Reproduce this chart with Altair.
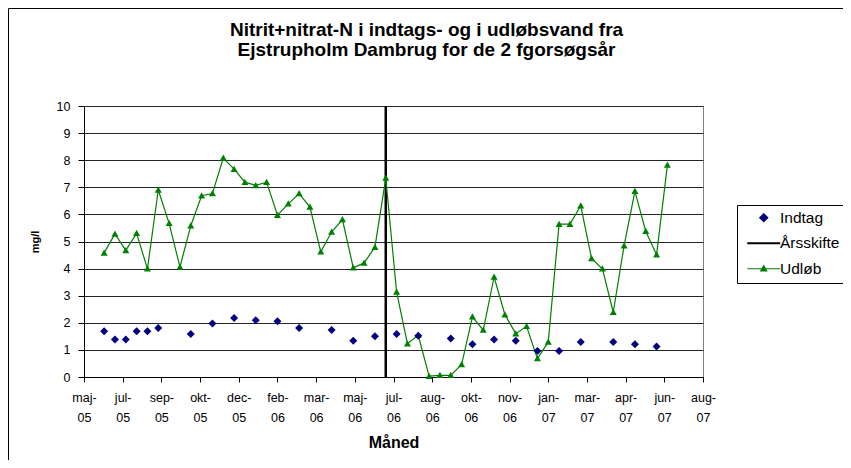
import altair as alt
import pandas as pd

# ---------------- data ----------------
udlob_dates = [
    "2005-06-23", "2005-07-07", "2005-07-21", "2005-08-04", "2005-08-18", "2005-09-01",
    "2005-09-15", "2005-09-29", "2005-10-13", "2005-10-27", "2005-11-10", "2005-11-24",
    "2005-12-08", "2005-12-22", "2006-01-05", "2006-01-19", "2006-02-02", "2006-02-16",
    "2006-03-02", "2006-03-16", "2006-03-30", "2006-04-13", "2006-04-27", "2006-05-11",
    "2006-05-25", "2006-06-08", "2006-06-22", "2006-07-06", "2006-07-20", "2006-08-03",
    "2006-08-17", "2006-08-31", "2006-09-14", "2006-09-28", "2006-10-12", "2006-10-26",
    "2006-11-09", "2006-11-23", "2006-12-07", "2006-12-21", "2007-01-04", "2007-01-18",
    "2007-02-01", "2007-02-15", "2007-03-01", "2007-03-15", "2007-03-29", "2007-04-12",
    "2007-04-26", "2007-05-10", "2007-05-24", "2007-06-07", "2007-06-21",
]
udlob_values = [
    4.58, 5.28, 4.67, 5.30, 3.99, 6.90, 5.67, 4.06, 5.58, 6.69,
    6.77, 8.08, 7.67, 7.19, 7.07, 7.19, 5.97, 6.39, 6.77, 6.27,
    4.62, 5.35, 5.81, 4.03, 4.21, 4.79, 7.34, 3.14, 1.23, 1.54,
    0.03, 0.06, 0.06, 0.46, 2.22, 1.73, 3.69, 2.30, 1.60, 1.87,
    0.68, 1.29, 5.64, 5.64, 6.32, 4.37, 3.99, 2.39, 4.84, 6.85,
    5.38, 4.51, 7.82,
]

indtag_dates = [
    "2005-06-23", "2005-07-07", "2005-07-21", "2005-08-04", "2005-08-18", "2005-09-01",
    "2005-10-13", "2005-11-10", "2005-12-08", "2006-01-05", "2006-02-02", "2006-03-02",
    "2006-04-13", "2006-05-11", "2006-06-08", "2006-07-06", "2006-08-03", "2006-09-14",
    "2006-10-12", "2006-11-09", "2006-12-07", "2007-01-04", "2007-02-01", "2007-03-01",
    "2007-04-12", "2007-05-10", "2007-06-07",
]
indtag_values = [
    1.69, 1.38, 1.38, 1.69, 1.69, 1.81, 1.59, 1.97, 2.18, 2.09,
    2.06, 1.81, 1.73, 1.34, 1.50, 1.59, 1.52, 1.42, 1.21, 1.38,
    1.34, 0.96, 0.96, 1.29, 1.29, 1.21, 1.13,
]

aarsskifte_dates = ["2006-06-22", "2006-06-22"]
aarsskifte_values = [0, 10]

series_names = ["Indtag", "Årsskifte", "Udløb"]
series_colors = ["#000080", "#000000", "#008000"]

# x-axis ticks (Excel date axis, 50-day major unit) and Danish month names
x_tick_dates = [
    (2005, 5, 28), (2005, 7, 17), (2005, 9, 5), (2005, 10, 25), (2005, 12, 14),
    (2006, 2, 2), (2006, 3, 24), (2006, 5, 13), (2006, 7, 2), (2006, 8, 21),
    (2006, 10, 10), (2006, 11, 29), (2007, 1, 18), (2007, 3, 9), (2007, 4, 28),
    (2007, 6, 17), (2007, 8, 6),
]
month_names = ["jan", "feb", "mar", "apr", "maj", "jun",
               "jul", "aug", "sep", "okt", "nov", "dec"]
y_ticks = [0, 1, 2, 3, 4, 5, 6, 7, 8, 9, 10]

title_lines = ["Nitrit+nitrat-N i indtags- og i udløbsvand fra",
               "Ejstrupholm Dambrug for de 2 fgorsøgsår"]

# ---------------- tables ----------------
df_udlob = pd.DataFrame({"dato": udlob_dates, "mgl": udlob_values, "serie": "Udløb"})
df_indtag = pd.DataFrame({"dato": indtag_dates, "mgl": indtag_values, "serie": "Indtag"})
df_shift = pd.DataFrame({"dato": aarsskifte_dates, "mgl": aarsskifte_values, "serie": "Årsskifte"})

FONT = "Liberation Sans"
W, H = 619, 271
PAD = {"left": 76, "top": 98, "right": 140, "bottom": 83}

tick_vals = [alt.DateTime(year=y, month=m, date=d, utc=True) for (y, m, d) in x_tick_dates]
month_js = "[" + ",".join("'%s-'" % m for m in month_names) + "]"
label_expr = "[%s[utcmonth(datum.value)], utcFormat(datum.value, '%%y')]" % month_js

x_enc = alt.X(
    "dato:T",
    scale=alt.Scale(type="utc", domain=[tick_vals[0], tick_vals[-1]], nice=False),
    axis=alt.Axis(
        title="Måned", values=tick_vals, labelExpr=label_expr,
        labelFontSize=12.5, labelLineHeight=20, labelPadding=9, labelAngle=0,
        labelOverlap=False, labelFlush=False,
        tickSize=5, tickColor="#000", domainColor="#000", grid=False,
        titleFontSize=16, titleFontWeight="bold", titlePadding=11,
    ),
)
y_enc = alt.Y(
    "mgl:Q",
    scale=alt.Scale(domain=[0, 10], nice=False),
    axis=alt.Axis(
        title="mg/l", values=y_ticks, labelFontSize=12.5, labelPadding=8,
        tickSize=6, tickColor="#000", domainColor="#000",
        grid=True, gridColor="#262626", gridWidth=1,
        titleFontSize=11, titleFontWeight="bold", titlePadding=16,
    ),
)

diamond_path = "M0,-0.8L0.8,0L0,0.8L-0.8,0Z"
tri_path = "M0,-0.7L0.7,0.55L-0.7,0.55Z"
line_path = "M-3.3,0H3.3"
line_tri_path = "M-3.3,0H3.3M0,-0.6L0.6,0.45L-0.6,0.45Z"

legend = alt.Legend(
    title=None, orient="none", legendX=653, legendY=99,
    strokeColor="#000", fillColor="#fff", padding=5,
    symbolSize=100, symbolOffset=14,
    symbolStrokeColor={"expr": "scale('color', datum.value)"},
    symbolStrokeWidth={"expr": "datum.value === 'Årsskifte' ? 2 : 1.2"},
    labelOffset=8.5, labelFontSize=15.5, rowPadding=8.5,
)

shift_layer = alt.Chart(df_shift).mark_line(color="#000", strokeWidth=2.5).encode(
    x=x_enc, y=y_enc, detail="serie:N")

udlob_line = alt.Chart(df_udlob).mark_line(color="#008000", strokeWidth=1.2).encode(
    x=x_enc, y=y_enc)
udlob_pts = alt.Chart(df_udlob).mark_point(
    filled=True, shape=tri_path, size=100, color="#008000", opacity=1).encode(
    x=x_enc, y=y_enc)

indtag_pts = alt.Chart(df_indtag).mark_point(filled=True, size=100, opacity=1).encode(
    x=x_enc, y=y_enc,
    color=alt.Color("serie:N", scale=alt.Scale(domain=series_names, range=series_colors),
                    legend=legend),
    shape=alt.Shape("serie:N",
                    scale=alt.Scale(domain=series_names,
                                    range=[diamond_path, line_path, line_tri_path]),
                    legend=legend),
)

# outer chart frame (top and left edges visible in the reference)
frame_top = alt.Chart(df_shift.head(1)).mark_rule(color="#000", strokeWidth=1).encode(
    x=alt.value(-75.5), x2=alt.value(W + PAD["right"]), y=alt.value(-97.5))
frame_left = alt.Chart(df_shift.head(1)).mark_rule(color="#000", strokeWidth=1).encode(
    x=alt.value(-75.5), y=alt.value(-97.5), y2=alt.value(H + PAD["bottom"]))

chart = alt.layer(
    frame_top, frame_left, shift_layer, udlob_line, udlob_pts, indtag_pts
).properties(
    width=W, height=H,
    autosize=alt.AutoSizeParams(type="none"),
    padding=PAD,
    title=alt.TitleParams(
        text=title_lines, fontSize=19, fontWeight="bold", lineHeight=20.5,
        anchor="middle", dx=33, offset=-52, color="#000", font=FONT,
    ),
).configure(
    font=FONT,
).configure_axis(
    labelFont=FONT, titleFont=FONT, labelColor="#000", titleColor="#000",
).configure_legend(
    labelFont=FONT, labelColor="#000",
).configure_view(
    stroke="#808080", strokeWidth=1,
)

chart.save("out.html", embed_options={"renderer": "svg", "actions": False})
